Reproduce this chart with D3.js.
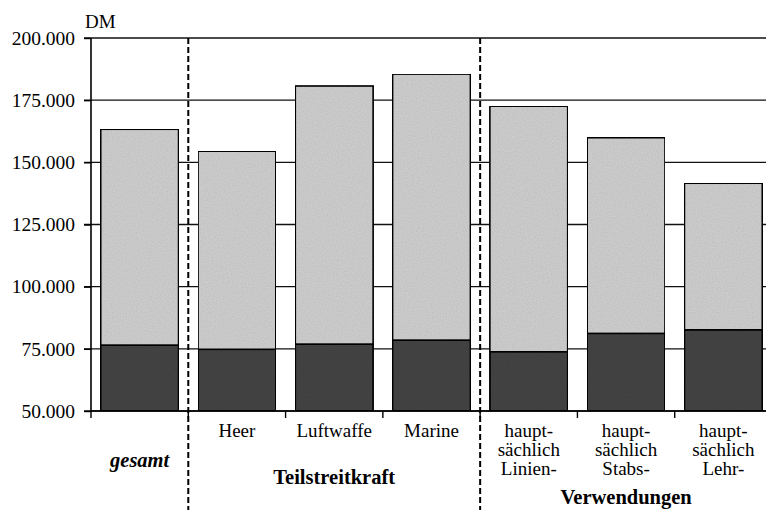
<!DOCTYPE html>
<html>
<head>
<meta charset="utf-8">
<script src="https://cdn.jsdelivr.net/npm/d3@7"></script>
<style>
  html, body { margin: 0; padding: 0; background: #fff; }
  svg { display: block; font-family: "Liberation Serif", "Times New Roman", serif; }
</style>
</head>
<body>
<svg id="chart" width="766" height="510"></svg>
<script>
// ---- data ----
const categories = ["gesamt", "Heer", "Luftwaffe", "Marine", "Linien", "Stabs", "Lehr"];
const categoryLabels = [[], ["Heer"], ["Luftwaffe"], ["Marine"],
  ["haupt-", "sächlich", "Linien-"], ["haupt-", "sächlich", "Stabs-"], ["haupt-", "sächlich", "Lehr-"]];
const baseValues  = [76500, 74800, 76900, 78500, 73800, 81200, 82600];
const totalValues = [163300, 154500, 180700, 185500, 172600, 159900, 141600];
const yTicks = [50000, 75000, 100000, 125000, 150000, 175000, 200000];
const groupNames = ["gesamt", "Teilstreitkraft", "Verwendungen"];
const groupStarts = [0, 1, 4];
const unitLabel = "DM";

// ---- drawing ----
const svg = d3.select("#chart");
const W = 766;
const x0 = 91, x1 = 772, yTop = 38, yBot = 411;

const x = d3.scaleBand().domain(categories).range([x0, x1]).paddingInner(0.2).paddingOuter(0.1);
const y = d3.scaleLinear().domain([50000, 200000]).range([yBot, yTop]);
const fmt = v => d3.format(",")(v).replace(/,/g, ".");

const defs = svg.append("defs");
const f = defs.append("filter").attr("id", "mottle").attr("x", 0).attr("y", 0).attr("width", 1).attr("height", 1);
f.append("feTurbulence").attr("type", "fractalNoise").attr("baseFrequency", "0.8 0.8").attr("numOctaves", 1).attr("seed", 3).attr("result", "n");
f.append("feColorMatrix").attr("in", "n").attr("type", "matrix")
  .attr("values", "0 0 0 0 0  0 0 0 0 0  0 0 0 0 0  0 0 0 0.25 0").attr("result", "dots");
f.append("feComposite").attr("in", "dots").attr("in2", "SourceGraphic").attr("operator", "in").attr("result", "d2");
f.append("feMerge").selectAll("feMergeNode").data(["SourceGraphic", "d2"]).join("feMergeNode").attr("in", d => d);

const clip = defs.append("clipPath").attr("id", "plotclip");
clip.append("rect").attr("x", 0).attr("y", 0).attr("width", W).attr("height", 510);

const g = svg.append("g").attr("clip-path", "url(#plotclip)");

// gridlines
g.append("g").selectAll("line").data(yTicks).join("line")
  .attr("x1", x0 - 7).attr("x2", W)
  .attr("y1", d => y(d)).attr("y2", d => y(d))
  .attr("stroke", "#111").attr("stroke-width", 1.4);

// bars
const data = categories.map((c, i) => ({ c, base: baseValues[i], total: totalValues[i] }));
const bars = g.append("g");
bars.selectAll("rect.light").data(data).join("rect").attr("class", "light")
  .attr("x", d => x(d.c)).attr("width", x.bandwidth())
  .attr("y", d => y(d.total)).attr("height", d => y(d.base) - y(d.total))
  .attr("fill", "#d4d4d4").attr("filter", "url(#mottle)")
  .attr("stroke", "#000").attr("stroke-width", 1.6);
bars.selectAll("rect.dark").data(data).join("rect").attr("class", "dark")
  .attr("x", d => x(d.c)).attr("width", x.bandwidth())
  .attr("y", d => y(d.base)).attr("height", d => y(50000) - y(d.base))
  .attr("fill", "#474747").attr("filter", "url(#mottle)")
  .attr("stroke", "#000").attr("stroke-width", 1.6);

// y axis
const yAxis = d3.axisLeft(y).tickValues(yTicks).tickFormat(fmt).tickSize(7).tickPadding(10);
const ya = svg.append("g").attr("transform", `translate(${x0},0)`).call(yAxis);
ya.attr("font-family", null).attr("font-size", null);
ya.select(".domain").attr("stroke", "#000").attr("stroke-width", 1.6).attr("d", `M0,${yTop}V${yBot}`);
ya.selectAll(".tick line").attr("stroke", "#000").attr("stroke-width", 1.4);
ya.selectAll(".tick text").attr("font-size", 19.5).attr("fill", "#000").attr("x", -16);

// x axis baseline and ticks at category boundaries
const step = x.step();
const boundaries = d3.range(0, categories.length + 1).map(i => x0 + i * step);
g.append("line").attr("x1", x0).attr("x2", W).attr("y1", yBot).attr("y2", yBot)
  .attr("stroke", "#000").attr("stroke-width", 1.6);
g.append("g").selectAll("line").data(boundaries).join("line")
  .attr("x1", d => d).attr("x2", d => d).attr("y1", yBot).attr("y2", yBot + 7)
  .attr("stroke", "#000").attr("stroke-width", 1.4);

// dashed group separators
svg.append("g").selectAll("line").data(groupStarts.slice(1)).join("line")
  .attr("x1", i => boundaries[i]).attr("x2", i => boundaries[i])
  .attr("y1", yTop).attr("y2", 510)
  .attr("stroke", "#000").attr("stroke-width", 2).attr("stroke-dasharray", "6,3");

// category labels
const lab = svg.append("g").attr("font-size", 19).attr("text-anchor", "middle").attr("fill", "#000");
categories.forEach((c, i) => {
  categoryLabels[i].forEach((t, k) => {
    lab.append("text").attr("x", x(c) + x.bandwidth() / 2).attr("y", 437 + k * 19).text(t);
  });
});

// group labels
const gl = svg.append("g").attr("text-anchor", "middle").attr("font-weight", "bold").attr("font-size", 20.5);
gl.append("text").attr("x", (boundaries[0] + boundaries[1]) / 2).attr("y", 467)
  .attr("font-style", "italic").text(groupNames[0]);
gl.append("text").attr("x", (boundaries[1] + boundaries[4]) / 2).attr("y", 484).text(groupNames[1]);
gl.append("text").attr("x", x(categories[5]) + x.bandwidth() / 2).attr("y", 504).text(groupNames[2]);

// unit label
svg.append("text").attr("x", 85).attr("y", 28).attr("font-size", 19).text(unitLabel);
</script>
</body>
</html>
